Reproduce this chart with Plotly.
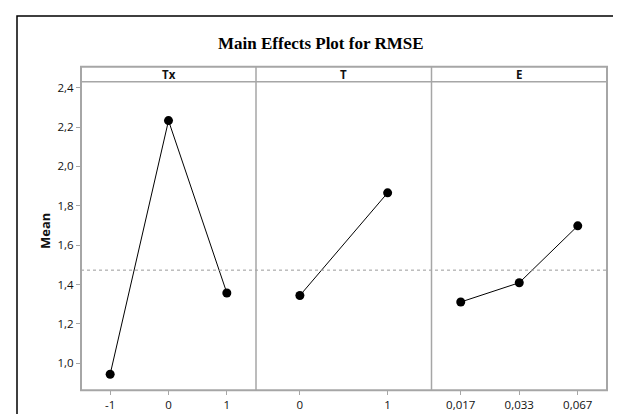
import plotly.graph_objects as go

# ---- data ----
tx_levels = [-1, 0, 1]
tx_means = [0.944, 2.233, 1.357]
t_levels = [0, 1]
t_means = [1.344, 1.866]
e_levels = ["0,017", "0,033", "0,067"]
e_means = [1.311, 1.409, 1.698]
overall_mean = 1.473
panel_names = ["Tx", "T", "E"]
y_ticks = [1.0, 1.2, 1.4, 1.6, 1.8, 2.0, 2.2, 2.4]

W, H = 621, 414
def px(x):
    return x / W
def py(y):
    return 1 - y / H

left, right, top, bottom, strip_top = 73, 599, 72, 382, 57
div1, div2 = 248, 423.5
frame_col = "#a6a6a6"
font_sans = "Open Sans, Noto Sans, sans-serif"

fig = go.Figure()
line_style = dict(color="black", width=1)
marker_style = dict(color="black", size=9)
fig.add_trace(go.Scatter(x=tx_levels, y=tx_means, mode="lines+markers",
                         line=line_style, marker=marker_style, xaxis="x", yaxis="y"))
fig.add_trace(go.Scatter(x=t_levels, y=t_means, mode="lines+markers",
                         line=line_style, marker=marker_style, xaxis="x2", yaxis="y2"))
fig.add_trace(go.Scatter(x=e_levels, y=e_means, mode="lines+markers",
                         line=line_style, marker=marker_style, xaxis="x3", yaxis="y3"))

yr = [0.863, 2.431]
tickfont = dict(family=font_sans, size=11.5, color="#111")
xcommon = dict(showgrid=False, zeroline=False, showline=False,
               ticks="outside", ticklen=4, tickcolor=frame_col, tickwidth=1,
               tickfont=tickfont)
ycommon = dict(range=yr, showgrid=False, zeroline=False, showline=False,
               domain=[py(bottom), py(top)])

fig.update_layout(
    width=W, height=H, margin=dict(l=0, r=0, t=0, b=0),
    paper_bgcolor="white", plot_bgcolor="white", showlegend=False,
    separators=",.",
    xaxis=dict(**xcommon, anchor="y",
               domain=[px(left), px(div1)], range=[-1.5, 1.5],
               tickvals=tx_levels, ticktext=[str(v) for v in tx_levels]),
    xaxis2=dict(**xcommon, anchor="y2",
                domain=[px(div1), px(div2)], range=[-0.5, 1.5],
                tickvals=t_levels, ticktext=[str(v) for v in t_levels]),
    xaxis3=dict(**xcommon, anchor="y3",
                domain=[px(div2), px(right)], range=[-0.5, 2.5], type="category"),
    yaxis=dict(**ycommon, anchor="x", tickvals=y_ticks, tickformat=".1f",
               ticks="outside", ticklen=4, tickcolor=frame_col, tickwidth=1,
               tickfont=tickfont),
    yaxis2=dict(**ycommon, anchor="x2", showticklabels=False),
    yaxis3=dict(**ycommon, anchor="x3", showticklabels=False),
)

shapes = []
# overall mean reference line
shapes.append(dict(type="line", xref="paper", yref="y", x0=px(left), x1=px(right),
                   y0=overall_mean, y1=overall_mean,
                   line=dict(color="#9a9a9a", width=1, dash="dot")))
# panel box + strip box
shapes.append(dict(type="rect", xref="paper", yref="paper", x0=px(left), x1=px(right),
                   y0=py(bottom), y1=py(strip_top), line=dict(color=frame_col, width=2)))
shapes.append(dict(type="line", xref="paper", yref="paper", x0=px(left), x1=px(right),
                   y0=py(top), y1=py(top), line=dict(color=frame_col, width=1.5)))
for xd in (div1, div2):
    shapes.append(dict(type="line", xref="paper", yref="paper", x0=px(xd), x1=px(xd),
                       y0=py(bottom), y1=py(strip_top), line=dict(color=frame_col, width=1.5)))
# outer black frame (extends beyond the visible area on right and bottom)
shapes.append(dict(type="rect", xref="paper", yref="paper", x0=px(9), x1=1.4,
                   y0=-0.4, y1=py(6), line=dict(color="black", width=1.5)))
fig.update_layout(shapes=shapes)

annotations = []
centers = [(left + div1) / 2, (div1 + div2) / 2, (div2 + right) / 2]
for name, cx in zip(panel_names, centers):
    annotations.append(dict(text=f"<b>{name}</b>", x=px(cx), y=py((top + strip_top) / 2),
                            xref="paper", yref="paper", showarrow=False,
                            xanchor="center", yanchor="middle",
                            font=dict(family=font_sans, size=11.5, color="#111")))
annotations.append(dict(text="<b>Main Effects Plot for RMSE</b>", x=px(313), y=py(34),
                        xref="paper", yref="paper", showarrow=False,
                        xanchor="center", yanchor="middle",
                        font=dict(family="Liberation Serif, Times New Roman, serif",
                                  size=17, color="black")))
annotations.append(dict(text="<b>Mean</b>", x=px(37), y=py(222), xref="paper", yref="paper",
                        showarrow=False, textangle=-90, xanchor="center", yanchor="middle",
                        font=dict(family=font_sans, size=13, color="#111")))
fig.update_layout(annotations=annotations)

fig.write_html("out.html")
